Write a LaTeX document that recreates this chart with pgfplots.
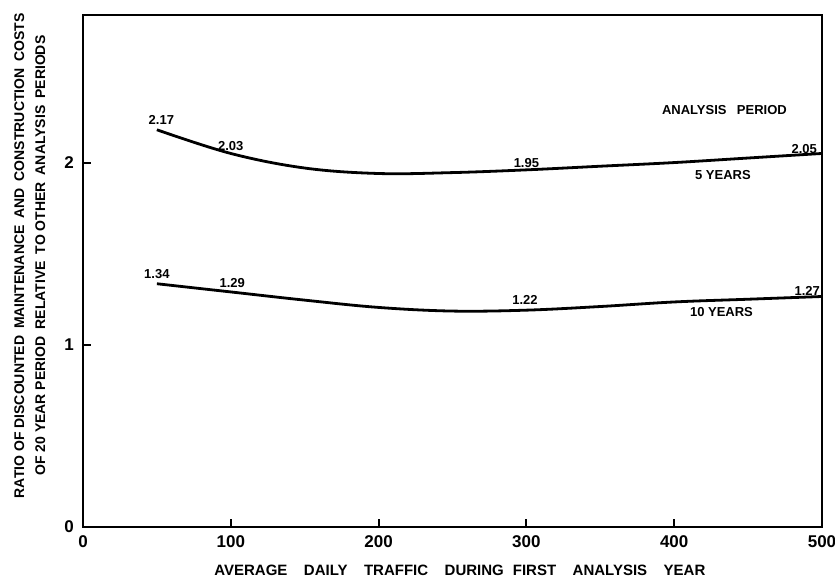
\documentclass[border=0pt]{standalone}
\usepackage{pgfplots}
\pgfplotsset{compat=1.18}
\usepackage{fontspec}
\setmainfont{Liberation Sans}
\begin{document}
\begin{tikzpicture}
\begin{axis}[
  scale only axis,
  width=369.5pt, height=256pt,
  xmin=0, xmax=500, ymin=0, ymax=2.81,
  xtick={0,100,200,300,400,500},
  ytick={0,1,2},
  tick pos=left,
  tick align=inside,
  major tick length=4pt,
  axis line style={line width=1pt},
  tick style={line width=1pt, black},
  every tick label/.append style={font=\bfseries\fontsize{8.5}{9}\selectfont},
  /pgf/number format/assume math mode=true,
  xticklabel style={yshift=-1pt},
  yticklabel style={xshift=-1pt},
  clip=false,
]
\addplot[line width=1.4pt, smooth, tension=0.6] coordinates {
  (50,2.18) (100,2.05) (150,1.97) (200,1.94) (250,1.945) (300,1.96) (350,1.98) (400,2.00) (450,2.025) (500,2.05)
};
\addplot[line width=1.4pt, smooth, tension=0.6] coordinates {
  (50,1.335) (100,1.29) (150,1.245) (200,1.205) (250,1.185) (300,1.19) (350,1.21) (400,1.235) (450,1.25) (500,1.265)
};
\begin{scope}[every node/.style={font=\bfseries\fontsize{6.5}{7}\selectfont, inner sep=0pt}]
\node at (axis cs:53,2.235) {2.17};
\node at (axis cs:100,2.09) {2.03};
\node at (axis cs:300,2.00) {1.95};
\node at (axis cs:488,2.075) {2.05};
\node at (axis cs:433,1.93) {5 YEARS};
\node at (axis cs:434,2.29) {ANALYSIS\hspace{0.8em}PERIOD};
\node at (axis cs:50,1.39) {1.34};
\node at (axis cs:101,1.34) {1.29};
\node at (axis cs:299,1.247) {1.22};
\node at (axis cs:490,1.293) {1.27};
\node at (axis cs:432,1.178) {10 YEARS};
\end{scope}
\node[rotate=90, align=center, font=\bfseries\fontsize{7}{10.5}\selectfont] at (axis description cs:-0.072,0.53)
  {RATIO OF DISCOUNTED\hspace{0.5em}MAINTENANCE\hspace{0.5em}AND\hspace{0.5em}CONSTRUCTION\hspace{0.5em}COSTS\\
   OF 20 YEAR PERIOD\hspace{0.5em}RELATIVE\hspace{0.5em}TO OTHER\hspace{0.5em}ANALYSIS\hspace{0.5em}PERIODS};
\node[font=\bfseries\fontsize{7.5}{9}\selectfont] at (axis description cs:0.51,-0.084)
  {AVERAGE\hspace{1.1em}DAILY\hspace{1.1em}TRAFFIC\hspace{1.1em}DURING\hspace{0.6em}FIRST\hspace{1.1em}ANALYSIS\hspace{1.1em}YEAR};
\end{axis}
\pgfresetboundingbox
\path ([shift={(-41.5pt,-26.5pt)}]current axis.south west) rectangle ([shift={(6.5pt,7.5pt)}]current axis.north east);
\end{tikzpicture}
\end{document}
